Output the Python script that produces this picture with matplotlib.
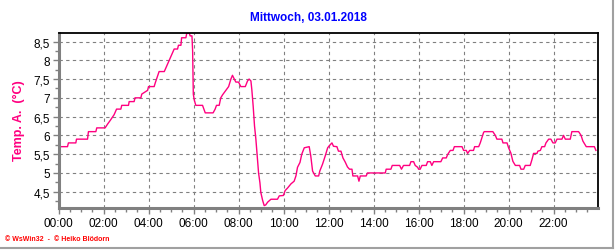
import matplotlib.pyplot as plt
from matplotlib.ticker import MultipleLocator, FuncFormatter
from matplotlib.lines import Line2D

# Time of day (hours) and outside temperature (°C)
hours = [0.0, 0.4, 0.44, 0.77, 0.8, 1.29, 1.33, 1.66, 1.7, 2.07, 2.18, 2.3,
         2.47, 2.58, 2.77, 2.81, 3.11, 3.14, 3.36, 3.4, 3.66, 3.7, 3.96, 4.0,
         4.25, 4.3, 4.47, 4.7, 5.07, 5.14, 5.29, 5.33, 5.44, 5.47, 5.66, 5.7,
         5.81, 5.85, 5.93, 5.96, 5.99, 6.03, 6.1, 6.4, 6.52, 6.87, 6.96, 7.02,
         7.14, 7.21, 7.29, 7.44, 7.56, 7.66, 7.73, 7.81, 7.88, 8.0, 8.1, 8.3,
         8.4, 8.47, 8.55, 8.59, 8.65, 8.71, 8.77, 8.83, 8.89, 8.95, 8.99, 9.07,
         9.14, 9.21, 9.29, 9.44, 9.73, 9.81, 9.99, 10.07, 10.18, 10.33, 10.47,
         10.55, 10.62, 10.73, 10.81, 10.92, 11.14, 11.21, 11.29, 11.41, 11.56,
         11.61, 11.73, 11.85, 11.96, 12.04, 12.15, 12.22, 12.37, 12.44, 12.55,
         12.64, 12.74, 12.84, 12.93, 13.04, 13.08, 13.29, 13.35, 13.41, 13.67,
         13.73, 14.52, 14.56, 14.77, 14.83, 15.16, 15.24, 15.33, 15.6, 15.66,
         15.78, 15.85, 15.96, 16.0, 16.07, 16.15, 16.34, 16.4, 16.52, 16.59,
         16.67, 16.99, 17.07, 17.23, 17.29, 17.41, 17.53, 17.59, 17.93, 18.0,
         18.12, 18.18, 18.27, 18.44, 18.49, 18.67, 18.74, 18.81, 18.89, 18.92,
         19.3, 19.41, 19.48, 19.7, 19.75, 19.93, 20.0, 20.1, 20.19, 20.3, 20.49,
         20.55, 20.67, 20.74, 20.96, 21.04, 21.11, 21.26, 21.3, 21.41, 21.48,
         21.6, 21.66, 21.78, 21.88, 21.97, 22.07, 22.15, 22.37, 22.44, 22.52,
         22.74, 22.81, 23.11, 23.22, 23.3, 23.45, 23.81, 23.88]
temps = [5.7, 5.7, 5.8, 5.8, 5.9, 5.9, 6.1, 6.1, 6.2, 6.2, 6.3, 6.4,
         6.55, 6.7, 6.7, 6.8, 6.8, 6.9, 6.9, 7.0, 7.0, 7.1, 7.2, 7.3,
         7.3, 7.4, 7.7, 7.7, 8.2, 8.3, 8.3, 8.4, 8.4, 8.6, 8.6, 8.72,
         8.72, 8.65, 8.65, 8.25, 7.1, 6.95, 6.8, 6.8, 6.6, 6.6, 6.7, 6.8,
         6.8, 7.0, 7.08, 7.2, 7.3, 7.5, 7.6, 7.5, 7.42, 7.42, 7.3, 7.3,
         7.45, 7.5, 7.45, 7.22, 6.78, 6.25, 5.9, 5.45, 5.0, 4.74, 4.48, 4.27,
         4.13, 4.15, 4.22, 4.3, 4.3, 4.39, 4.4, 4.53, 4.6, 4.71, 4.78,
         4.92, 5.15, 5.28, 5.5, 5.67, 5.7, 5.45, 5.05, 4.92, 4.92,
         5.05, 5.23, 5.45, 5.67, 5.73, 5.8, 5.71, 5.7, 5.58, 5.58,
         5.4, 5.29, 5.16, 5.1, 5.1, 4.92, 4.92, 4.78, 4.92, 4.92,
         5.0, 5.0, 5.1, 5.1, 5.2, 5.2, 5.1, 5.2, 5.2, 5.3,
         5.3, 5.2, 5.15, 5.1, 5.1, 5.2, 5.2, 5.3, 5.3, 5.2,
         5.3, 5.3, 5.4, 5.4, 5.49, 5.6, 5.6, 5.7, 5.7, 5.6,
         5.6, 5.52, 5.6, 5.6, 5.7, 5.7, 5.8, 5.93, 6.08, 6.1,
         6.1, 6.0, 5.9, 5.9, 5.8, 5.8, 5.67, 5.53, 5.31, 5.2, 5.2,
         5.1, 5.1, 5.2, 5.2, 5.36, 5.52, 5.52, 5.58, 5.6, 5.7,
         5.7, 5.8, 5.9, 5.9, 5.8, 5.8, 5.9, 5.9, 6.0, 5.9,
         5.9, 6.1, 6.1, 6.0, 5.85, 5.7, 5.7, 5.6]

x_ticks = [0, 2, 4, 6, 8, 10, 12, 14, 16, 18, 20, 22]
y_ticks = [4.5, 5.0, 5.5, 6.0, 6.5, 7.0, 7.5, 8.0, 8.5]

title = 'Mittwoch, 03.01.2018'
ylabel = 'Temp. A.  (°C)'
footer = '© WsWin32  -  © Heiko Blödorn'

pink = '#ff0080'
W, H = 616, 253

fig = plt.figure(figsize=(W / 100, H / 100), dpi=100)
fig.patch.set_facecolor('white')
ax = fig.add_axes([58.5 / W, 1 - 208.5 / H, (597.5 - 58.5) / W, (208.5 - 33.5) / H])

ax.plot(hours, temps, color=pink, linewidth=1.0)

ax.set_xlim(0, 23.95)
ax.set_ylim(4.08, 8.74)
ax.set_xticks(x_ticks)
ax.xaxis.set_major_formatter(FuncFormatter(lambda v, p: '%02d:00' % int(round(v))))
ax.xaxis.set_minor_locator(MultipleLocator(0.5))
ax.set_yticks(y_ticks)
ax.yaxis.set_major_formatter(FuncFormatter(lambda v, p: ('%g' % v).replace('.', ',')))
ax.yaxis.set_minor_locator(MultipleLocator(0.25))

ax.grid(True, which='major', color='#808080', linestyle=(0, (3, 3)), linewidth=0.8)

for side in ['left', 'bottom']:
    ax.spines[side].set_color('#808080')
    ax.spines[side].set_linewidth(2.2)
for side in ['top', 'right']:
    ax.spines[side].set_color('black')
    ax.spines[side].set_linewidth(1.3)

ax.tick_params(axis='both', which='both', color='#808080', labelsize=8.5,
               labelcolor='black')
ax.tick_params(axis='both', which='major', length=4, width=1)
ax.tick_params(axis='both', which='minor', length=3, width=1)
ax.tick_params(axis='x', pad=3)
ax.tick_params(axis='y', pad=2)
for lbl in ax.get_xticklabels() + ax.get_yticklabels():
    lbl.set_fontfamily('Liberation Sans')

fig.text(0.5, 1 - 18 / H, title, ha='center', va='center', color='#0000ff',
         fontsize=8.5, fontweight='bold', family='Liberation Sans')
fig.text(19 / W, 1 - 121 / H, ylabel, ha='center', va='center', rotation=90,
         color=pink, fontsize=9, fontweight='bold', family='Liberation Sans')
fig.text(5 / W, 1 - 240 / H, footer, ha='left', va='center', color='#ff0000',
         fontsize=5, fontweight='bold', family='Liberation Sans')

# window frame lines at the right and bottom edge
fig.add_artist(Line2D([613 / W, 613 / W], [1 - 249 / H, 1], color='#a0a0a0',
                      linewidth=1.5, transform=fig.transFigure))
fig.add_artist(Line2D([0, 613 / W], [1 - 249 / H, 1 - 249 / H], color='#a0a0a0',
                      linewidth=1.5, transform=fig.transFigure))

fig.savefig('out.png', dpi=100)
